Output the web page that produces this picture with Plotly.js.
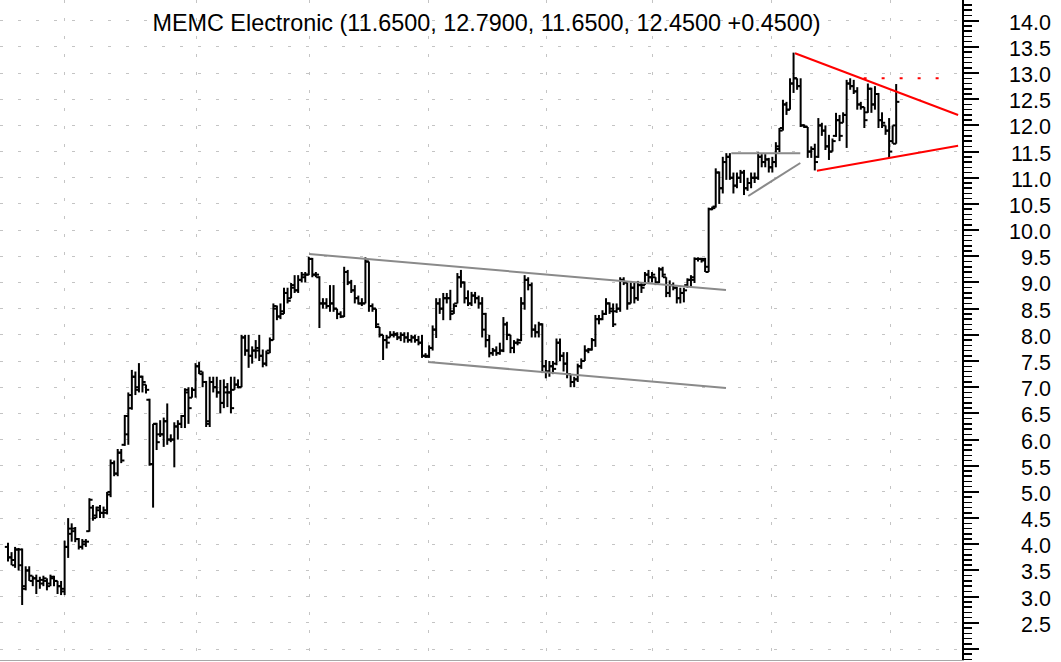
<!DOCTYPE html>
<html><head><meta charset="utf-8">
<script src="https://cdn.plot.ly/plotly-3.0.1.min.js"></script>
<style>html,body{margin:0;padding:0;background:#fff}#chart{width:1061px;height:662px}</style>
</head><body><div id="chart"></div>
<script>
const openP = [3.95,3.75,3.60,3.90,3.90,3.20,3.50,3.30,3.35,3.30,3.25,3.30,3.25,3.35,3.30,3.20,3.15,3.95,4.30,4.30,4.10,3.95,4.00,4.25,4.70,4.55,4.65,4.60,4.60,5.00,5.55,5.35,5.75,5.90,6.10,6.60,7.20,7.00,7.20,7.05,6.76,5.53,6.30,6.10,6.10,6.35,6.00,6.00,6.25,6.30,6.45,6.90,6.80,6.95,7.40,7.25,7.10,6.30,7.10,7.00,6.90,6.70,6.90,6.90,6.95,7.05,7.00,7.95,7.70,7.60,7.70,7.70,7.60,7.45,7.70,7.90,8.50,8.35,8.40,8.80,8.70,8.90,8.85,9.05,9.10,9.15,9.45,9.15,9.10,8.60,8.60,8.55,8.60,8.50,8.40,8.35,9.20,9.00,8.85,8.70,8.60,8.60,9.40,8.55,8.50,8.15,8.00,7.90,7.95,8.00,8.00,7.95,8.00,7.95,7.90,7.95,7.90,7.85,7.60,7.60,7.75,8.10,8.60,8.50,8.70,8.70,8.45,8.60,9.10,9.00,8.70,8.60,8.75,8.70,8.60,8.40,7.90,7.65,7.70,7.65,7.70,8.20,8.00,7.75,7.85,7.90,8.60,9.05,8.95,8.10,8.05,8.20,7.40,7.30,7.40,7.45,7.85,7.60,7.45,7.25,7.10,7.15,7.40,7.50,7.70,7.72,7.90,8.30,8.30,8.40,8.60,8.45,8.45,8.50,9.05,9.00,8.60,8.90,8.70,8.95,8.95,9.15,9.10,9.10,9.00,9.25,9.10,8.80,8.95,8.90,8.70,8.80,8.95,9.05,9.05,9.45,9.45,9.45,9.20,10.40,10.45,11.10,10.80,11.30,11.40,11.00,10.85,11.00,11.10,10.80,10.90,11.00,11.00,11.40,11.30,11.35,11.20,11.30,11.55,11.95,12.40,12.30,12.80,12.90,12.75,12.00,11.97,11.50,11.55,11.40,12.00,11.90,11.60,11.50,11.80,12.10,12.05,12.20,12.80,12.75,12.65,12.40,12.35,12.25,12.70,12.40,12.60,12.10,12.00,11.90,11.70,11.65];
const highP = [4.03,3.85,3.95,3.93,3.92,3.58,3.58,3.40,3.42,3.38,3.40,3.35,3.42,3.40,3.30,3.30,4.07,4.50,4.40,4.33,4.12,4.10,4.10,4.88,4.75,4.72,4.75,4.72,5.00,5.62,5.60,5.82,5.82,6.47,6.90,7.33,7.30,7.46,7.22,7.05,6.78,6.30,6.32,6.37,6.42,6.69,6.10,6.33,6.37,6.47,6.98,7.00,7.00,7.46,7.48,7.30,7.12,7.20,7.20,7.20,7.14,7.15,7.08,7.20,7.20,7.15,8.00,8.00,8.00,7.78,7.90,8.00,7.72,7.70,7.95,8.60,8.56,8.60,8.90,8.90,8.99,9.14,9.14,9.20,9.20,9.49,9.47,9.20,9.12,8.70,8.70,8.95,8.95,8.50,8.45,9.30,9.24,9.05,8.95,8.75,8.70,9.48,9.40,8.60,8.50,8.15,8.00,8.00,8.07,8.07,8.05,8.05,8.05,8.05,8.00,8.00,7.98,8.00,7.65,7.80,8.18,8.70,8.70,8.80,8.80,8.86,8.60,9.18,9.24,9.02,8.85,8.82,8.82,8.75,8.72,8.42,8.00,7.75,7.78,7.85,8.34,8.25,8.00,7.90,7.93,8.72,9.14,9.10,9.00,8.20,8.25,8.22,7.52,7.50,7.50,7.93,7.93,7.67,7.67,7.25,7.20,7.45,7.55,7.80,7.75,7.94,8.38,8.38,8.47,8.70,8.62,8.60,8.60,9.10,9.10,9.00,9.00,9.00,9.03,9.00,9.20,9.24,9.20,9.10,9.29,9.30,9.10,9.04,9.00,8.92,8.90,8.90,9.08,9.14,9.48,9.48,9.47,9.47,10.43,10.45,11.18,11.12,11.40,11.47,11.47,11.10,11.10,11.15,11.15,11.00,11.10,11.10,11.49,11.45,11.45,11.38,11.40,11.68,11.95,12.49,12.45,12.90,13.39,12.90,12.90,12.02,11.97,11.60,11.65,12.14,12.05,12.00,11.82,11.75,12.24,12.20,12.25,12.87,12.90,12.87,12.73,12.45,12.35,12.80,12.72,12.75,12.62,12.25,12.00,12.14,12.00,12.79];
const lowP = [3.67,3.60,3.55,3.50,2.84,3.12,3.30,3.20,3.05,3.15,3.20,3.12,3.20,3.20,3.05,3.03,3.03,3.74,4.05,4.04,3.90,3.90,3.95,4.24,4.45,4.50,4.50,4.50,4.57,4.90,5.30,5.30,5.55,5.88,5.90,6.57,6.85,6.90,6.90,6.88,5.50,4.70,5.80,6.05,5.86,5.90,5.95,5.47,6.00,6.22,6.22,6.30,6.80,6.80,7.25,7.00,6.24,6.24,6.90,6.80,6.50,6.60,6.62,6.50,6.95,6.98,7.00,7.60,7.37,7.45,7.55,7.50,7.38,7.40,7.65,7.90,8.28,8.30,8.40,8.60,8.70,8.80,8.80,9.00,9.00,9.14,9.10,9.10,8.13,8.50,8.50,8.44,8.44,8.30,8.32,8.34,8.95,8.80,8.60,8.58,8.55,8.60,8.44,8.44,8.13,7.95,7.52,7.74,7.95,7.95,7.90,7.88,7.85,7.85,7.85,7.85,7.80,7.56,7.56,7.56,7.70,7.94,8.40,8.28,8.60,8.28,8.40,8.60,8.90,8.60,8.55,8.55,8.60,8.50,7.95,7.76,7.57,7.60,7.60,7.62,7.67,7.90,7.65,7.65,7.80,7.88,8.48,8.85,7.95,7.95,7.95,7.27,7.17,7.20,7.25,7.42,7.50,7.30,7.17,7.00,7.00,7.10,7.35,7.50,7.65,7.70,7.77,8.20,8.28,8.38,8.40,8.15,8.42,8.44,8.95,8.48,8.60,8.60,8.65,8.80,8.95,9.00,9.00,8.95,8.99,9.10,8.72,8.72,8.85,8.60,8.60,8.62,8.90,8.91,8.99,9.40,9.38,9.20,9.20,10.38,10.43,10.50,10.70,10.96,10.96,10.70,10.80,10.90,10.67,10.75,10.80,10.90,10.96,11.20,11.20,11.10,11.10,11.20,11.49,11.90,12.20,12.30,12.62,12.68,11.97,11.95,11.38,11.38,11.14,11.38,11.80,11.53,11.34,11.50,11.78,11.70,12.05,11.57,12.68,12.60,12.30,12.30,11.95,12.24,12.24,12.30,11.95,11.95,11.82,11.38,11.65,11.65];
const closeP = [3.75,3.70,3.90,3.60,3.15,3.50,3.40,3.35,3.30,3.32,3.35,3.20,3.38,3.30,3.20,3.10,3.95,4.20,4.25,4.10,3.95,4.05,4.05,4.85,4.50,4.70,4.60,4.65,4.95,5.55,5.35,5.75,5.60,6.45,6.85,7.20,6.95,7.20,7.10,6.95,5.53,6.30,5.95,6.10,6.35,6.00,6.00,6.25,6.30,6.45,6.95,6.60,6.95,7.40,7.30,7.10,6.35,7.10,7.00,6.90,6.70,7.00,6.90,6.60,7.05,7.00,7.95,7.70,7.60,7.70,7.75,7.60,7.45,7.65,7.90,8.55,8.35,8.45,8.80,8.65,8.95,8.85,9.05,9.15,9.15,9.45,9.15,9.15,8.60,8.60,8.55,8.60,8.50,8.40,8.35,9.20,9.00,8.85,8.70,8.60,8.60,9.40,8.55,8.50,8.20,8.00,7.90,7.85,8.00,8.02,7.95,8.00,7.95,7.90,7.95,7.90,7.85,7.60,7.58,7.75,8.10,8.60,8.50,8.70,8.70,8.40,8.55,9.10,9.00,8.70,8.60,8.75,8.70,8.60,8.10,7.90,7.65,7.70,7.65,7.70,8.20,8.00,7.75,7.85,7.85,8.60,9.05,8.95,8.10,8.05,8.20,7.40,7.30,7.40,7.35,7.85,7.60,7.45,7.25,7.10,7.15,7.40,7.50,7.70,7.72,7.90,8.30,8.30,8.40,8.60,8.50,8.20,8.50,9.05,9.00,8.60,8.90,8.70,8.95,8.90,9.15,9.10,9.15,9.00,9.25,9.15,8.80,8.95,8.90,8.70,8.80,8.85,9.05,9.10,9.45,9.45,9.42,9.30,10.40,10.42,11.10,10.80,11.30,11.40,11.00,10.85,11.00,11.10,10.80,10.90,11.00,11.00,11.40,11.30,11.35,11.20,11.30,11.60,11.90,12.40,12.30,12.80,12.90,12.75,12.00,11.98,11.50,11.55,11.30,12.00,11.90,11.60,11.50,11.70,12.10,11.80,12.20,12.80,12.75,12.65,12.40,12.35,12.10,12.70,12.40,12.60,12.10,12.05,11.90,11.50,12.00,12.45];

const tickValues = [14.0,13.5,13.0,12.5,12.0,11.5,11.0,10.5,10.0,9.5,9.0,8.5,8.0,7.5,7.0,6.5,6.0,5.5,5.0,4.5,4.0,3.5,3.0,2.5];
const tickLabels = ["14.0","13.5","13.0","12.5","12.0","11.5","11.0","10.5","10.0","9.5","9.0","8.5","8.0","7.5","7.0","6.5","6.0","5.5","5.0","4.5","4.0","3.5","3.0","2.5"];
const gridBars = [16.1, 53.4, 85.1, 118.7, 152.3, 182.0, 215.9, 249.3];

const channelTopX = [85.1, 202.9],   channelTopY = [9.544, 8.857];
const channelLowX = [118.7, 202.9],  channelLowY = [7.482, 6.985];
const flagTopX = [204.4, 223.9],     flagTopY = [11.468, 11.468];
const flagLowX = [209.2, 223.9],     flagLowY = [10.652, 11.282];
const triTopX = [222.4, 268.5],      triTopY = [13.377, 12.199];
const triLowX = [228.6, 268.5],      triLowY = [11.135, 11.613];
const resistX = [241.8, 266.2],      resistY = [12.9, 12.9];

const n = openP.length;
const prevClose = closeP[n-2];
const chg = closeP[n-1] - prevClose;
const titleText = 'MEMC Electronic (' + openP[n-1].toFixed(4) + ', ' + highP[n-1].toFixed(4) + ', ' +
  lowP[n-1].toFixed(4) + ', ' + closeP[n-1].toFixed(4) + ' ' + (chg >= 0 ? '+' : '') + chg.toFixed(4) + ')';

const w = 0.9;
const bx = [], by = [];
for (let i = 0; i < n; i++) {
  bx.push(i - w, i, null, i, i, null, i, i + w, null);
  by.push(openP[i], openP[i], null, lowP[i], highP[i], null, closeP[i], closeP[i], null);
}

const gray = '#8a8a8a', red = '#ff0000';
function seg(x, y, color, dash) {
  return {type:'scatter', mode:'lines', x:x, y:y, hoverinfo:'skip',
    line:{color:color, width:2, dash:dash || 'solid'}};
}
const traces = [
  {type:'scatter', mode:'lines', x:bx, y:by, connectgaps:false, hoverinfo:'skip',
   line:{color:'#000', width:2}},
  seg(channelTopX, channelTopY, gray),
  seg(channelLowX, channelLowY, gray),
  seg(flagTopX, flagTopY, gray),
  seg(flagLowX, flagLowY, gray),
  seg(triTopX, triTopY, red),
  seg(triLowX, triLowY, red),
  seg(resistX, resistY, red, '3px,15px')
];

const plotW = 962;
const layout = {
  width:1061, height:662,
  margin:{l:0, r:99, t:0, b:2, pad:0},
  paper_bgcolor:'#fff', plot_bgcolor:'#fff', showlegend:false,
  font:{family:'"Liberation Sans", Arial, sans-serif', color:'#000'},
  title:{text:titleText, font:{size:23.4, color:'#000'}, x:486.5/1061, xanchor:'center',
         y:1 - 23.3/662, yanchor:'middle', xref:'container', yref:'container'},
  xaxis:{range:[-2.261, 269.6], tickvals:gridBars, showticklabels:false, ticks:'',
         showgrid:true, gridcolor:'#c4c4c4', griddash:'3px,15px', gridwidth:1,
         zeroline:false, showline:true, linecolor:'#a8a8a8', linewidth:1, fixedrange:true},
  yaxis:{range:[1.79, 14.395], side:'right', dtick:0.5, tick0:0, ticks:'outside', ticklen:15,
         tickwidth:2, tickcolor:'#000', showticklabels:false,
         showgrid:true, gridcolor:'#c4c4c4', griddash:'3px,15px', gridwidth:1,
         zeroline:false, showline:true, linecolor:'#000', linewidth:1.5,
         minor:{dtick:0.1, tick0:0, ticks:'outside', ticklen:8, tickwidth:1.5, tickcolor:'#000', showgrid:false}},
  annotations: tickValues.map((v, k) => ({
    x:1053/plotW, xref:'paper', y:v, yref:'y', text:tickLabels[k], showarrow:false,
    xanchor:'right', yanchor:'middle', yshift:-2, font:{size:21.5, color:'#000'}
  }))
};
Plotly.newPlot('chart', traces, layout, {displayModeBar:false, staticPlot:true});
</script>
</body></html>
